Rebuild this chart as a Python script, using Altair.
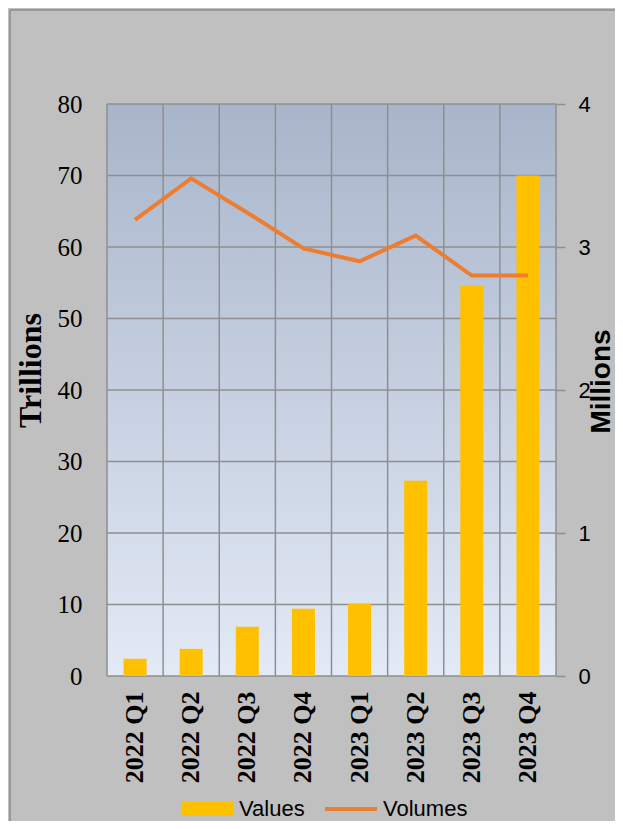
import altair as alt
import pandas as pd

quarters = ["2022 Q1", "2022 Q2", "2022 Q3", "2022 Q4",
            "2023 Q1", "2023 Q2", "2023 Q3", "2023 Q4"]
values_tn = [2.4, 3.8, 6.9, 9.4, 10.1, 27.3, 54.6, 70.0]
volumes_mn = [3.19, 3.48, 3.24, 2.99, 2.90, 3.08, 2.80, 2.80]
left_ticks = [0, 10, 20, 30, 40, 50, 60, 70, 80]
right_ticks = [0, 1, 2, 3, 4]

W, H = 449, 572
GRID = "#8f8f8f"

df = pd.DataFrame({"quarter": quarters, "v": values_tn, "vol": volumes_mn})
grid_df = pd.DataFrame({"v": left_ticks})
one = pd.DataFrame({"k": [0]})

x_scale = alt.Scale(type="band", paddingInner=0, paddingOuter=0, domain=quarters)
x_axis = alt.Axis(labelAngle=-90, labelFont="Liberation Serif", labelFontWeight="bold",
                  labelFontSize=26, labelColor="black", labelPadding=15, ticks=False,
                  tickSize=0, domain=False, grid=False, title=None)

y_scale = alt.Scale(domain=[0, 80], nice=False, zero=True)
y_axis = alt.Axis(values=left_ticks, labelFont="Liberation Serif", labelFontSize=25,
                  labelColor="black", labelPadding=25, ticks=False, tickSize=0,
                  domain=False, grid=False, title="Trillions", titleFont="Liberation Serif",
                  titleFontSize=32, titleFontWeight="bold", titleColor="black",
                  titlePadding=10, titleY=266)

r_axis = alt.Axis(orient="right", values=right_ticks, labelFont="Liberation Sans",
                  labelFontSize=22, labelColor="black", labelPadding=13, ticks=True,
                  tickSize=9, tickColor=GRID, tickWidth=1.5, domain=False, grid=False,
                  title="Millions", titleFont="Liberation Sans", titleFontSize=28,
                  titleFontWeight="bold", titleColor="black", titleAngle=270,
                  titlePadding=25, titleY=277)

bg = alt.Chart(one).mark_rect(
    fill=alt.LinearGradient(gradient="linear", x1=0, x2=0, y1=0, y2=1,
                            stops=[alt.GradientStop(color="#a8b5ca", offset=0),
                                   alt.GradientStop(color="#e3eaf6", offset=1)])
).encode(x=alt.value(0), x2=alt.value(W), y=alt.value(0), y2=alt.value(H))

vgrid = alt.Chart(df).mark_rule(color=GRID, strokeWidth=1.5).encode(
    x=alt.X("quarter:N", bandPosition=0, scale=x_scale, axis=x_axis)
)
rborder = alt.Chart(one).mark_rule(color=GRID, strokeWidth=1.5).encode(
    x=alt.value(W), y=alt.value(0), y2=alt.value(H)
)

hgrid = alt.Chart(grid_df).mark_rule(color=GRID, strokeWidth=1.5).encode(
    y=alt.Y("v:Q", scale=y_scale, axis=y_axis)
)

legend_common = dict(orient="none", legendY=679, symbolSize=2704, symbolStrokeWidth=0,
                     symbolOpacity=1, labelFont="Liberation Sans", labelFontSize=22,
                     labelColor="black", labelOffset=6, title=None, padding=0)

bars = alt.Chart(df).transform_calculate(s="'Values'").mark_bar(
    width=alt.RelativeBandSize(0.41)
).encode(
    x=alt.X("quarter:N", scale=x_scale, axis=x_axis),
    y=alt.Y("v:Q", scale=y_scale, axis=y_axis),
    color=alt.Color("s:N",
                    scale=alt.Scale(domain=["Values"], range=["#ffc000"]),
                    legend=alt.Legend(legendX=74, symbolType="M-1,-0.27H1V0.27H-1Z",
                                      **legend_common)),
)

line = alt.Chart(df).transform_calculate(s="'Volumes'").mark_line(strokeWidth=4).encode(
    x=alt.X("quarter:N", scale=x_scale, axis=x_axis),
    y=alt.Y("vol:Q", scale=alt.Scale(domain=[0, 4], nice=False), axis=r_axis),
    color=alt.Color("s:N",
                    scale=alt.Scale(domain=["Volumes"], range=["#ed7d31"]),
                    legend=alt.Legend(legendX=218, symbolType="M-1,-0.075H1V0.075H-1Z",
                                      symbolFillColor="#ed7d31", **legend_common)),
)

border_v = alt.Chart(one).mark_rule(color="#8c8c8c", strokeWidth=1.5).encode(
    x=alt.value(-97), y=alt.value(-94), y2=alt.value(730)
)
border_h = alt.Chart(one).mark_rule(color="#8c8c8c", strokeWidth=1.5).encode(
    x=alt.value(-97), x2=alt.value(520), y=alt.value(-94)
)

left = alt.layer(hgrid, bars)

chart = alt.layer(bg, vgrid, rborder, left, line, border_v, border_h).resolve_scale(
    y="independent", color="independent"
).properties(
    width=W, height=H,
    padding={"left": 99, "top": 96, "right": 59, "bottom": 145},
    autosize=alt.AutoSizeParams(type="none"),
    background="#c0c0c0",
).configure_view(stroke=None)

chart.save("out.html", embed_options={"renderer": "svg", "actions": False})
